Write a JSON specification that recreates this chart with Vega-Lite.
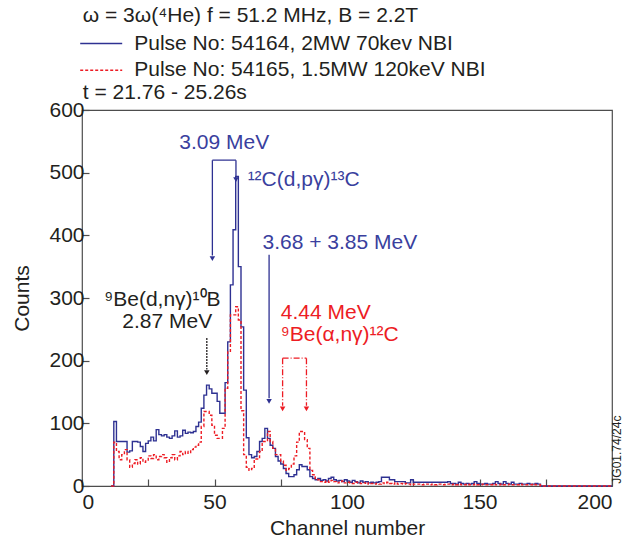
{
  "$schema": "https://vega.github.io/schema/vega-lite/v6.json",
  "autosize": {"type": "none"},
  "width": 530,
  "height": 376,
  "padding": {"left": 82, "top": 110, "right": 28, "bottom": 54},
  "config": {
    "font": "Liberation Sans",
    "view": {"stroke": "#4d4d4d", "strokeWidth": 1.2},
    "axis": {"labelFont": "Liberation Sans", "labelFontSize": 21, "labelColor": "#231f20", "titleFont": "Liberation Sans", "titleFontSize": 21, "titleFontWeight": "normal", "titleColor": "#231f20", "domain": false, "grid": false, "tickColor": "#4d4d4d", "tickSize": -7, "tickWidth": 1.2}
  },
  "datasets": {
    "spec": [
      {"ch": 11, "p54164": 0, "p54165": 0},
      {"ch": 12, "p54164": 103, "p54165": 70},
      {"ch": 13, "p54164": 71, "p54165": 55},
      {"ch": 14, "p54164": 71, "p54165": 42},
      {"ch": 15, "p54164": 71, "p54165": 50},
      {"ch": 16, "p54164": 71, "p54165": 58},
      {"ch": 17, "p54164": 54, "p54165": 42},
      {"ch": 18, "p54164": 56, "p54165": 30},
      {"ch": 19, "p54164": 71, "p54165": 36},
      {"ch": 20, "p54164": 71, "p54165": 42},
      {"ch": 21, "p54164": 70, "p54165": 35},
      {"ch": 22, "p54164": 63, "p54165": 45},
      {"ch": 23, "p54164": 55, "p54165": 38},
      {"ch": 24, "p54164": 68, "p54165": 40},
      {"ch": 25, "p54164": 72, "p54165": 48},
      {"ch": 26, "p54164": 78, "p54165": 44},
      {"ch": 27, "p54164": 72, "p54165": 50},
      {"ch": 28, "p54164": 90, "p54165": 42},
      {"ch": 29, "p54164": 82, "p54165": 47},
      {"ch": 30, "p54164": 80, "p54165": 50},
      {"ch": 31, "p54164": 82, "p54165": 45},
      {"ch": 32, "p54164": 78, "p54165": 38},
      {"ch": 33, "p54164": 76, "p54165": 45},
      {"ch": 34, "p54164": 80, "p54165": 50},
      {"ch": 35, "p54164": 88, "p54165": 42},
      {"ch": 36, "p54164": 78, "p54165": 48},
      {"ch": 37, "p54164": 80, "p54165": 55},
      {"ch": 38, "p54164": 89, "p54165": 50},
      {"ch": 39, "p54164": 84, "p54165": 55},
      {"ch": 40, "p54164": 86, "p54165": 52},
      {"ch": 41, "p54164": 85, "p54165": 58},
      {"ch": 42, "p54164": 87, "p54165": 62},
      {"ch": 43, "p54164": 95, "p54165": 65},
      {"ch": 44, "p54164": 102, "p54165": 70},
      {"ch": 45, "p54164": 124, "p54165": 95},
      {"ch": 46, "p54164": 145, "p54165": 119},
      {"ch": 47, "p54164": 161, "p54165": 119},
      {"ch": 48, "p54164": 155, "p54165": 113},
      {"ch": 49, "p54164": 148, "p54165": 97},
      {"ch": 50, "p54164": 148, "p54165": 81},
      {"ch": 51, "p54164": 135, "p54165": 76},
      {"ch": 52, "p54164": 116, "p54165": 76},
      {"ch": 53, "p54164": 116, "p54165": 92},
      {"ch": 54, "p54164": 165, "p54165": 156},
      {"ch": 55, "p54164": 230, "p54165": 215},
      {"ch": 56, "p54164": 321, "p54165": 273},
      {"ch": 57, "p54164": 409, "p54165": 273},
      {"ch": 58, "p54164": 494, "p54165": 286},
      {"ch": 59, "p54164": 350, "p54165": 265},
      {"ch": 60, "p54164": 254, "p54165": 120},
      {"ch": 61, "p54164": 153, "p54165": 50},
      {"ch": 62, "p54164": 77, "p54165": 30},
      {"ch": 63, "p54164": 50, "p54165": 25},
      {"ch": 64, "p54164": 45, "p54165": 28},
      {"ch": 65, "p54164": 47, "p54165": 43},
      {"ch": 66, "p54164": 55, "p54165": 43},
      {"ch": 67, "p54164": 71, "p54165": 55},
      {"ch": 68, "p54164": 76, "p54165": 71},
      {"ch": 69, "p54164": 92, "p54165": 71},
      {"ch": 70, "p54164": 76, "p54165": 87},
      {"ch": 71, "p54164": 65, "p54165": 71},
      {"ch": 72, "p54164": 60, "p54165": 60},
      {"ch": 73, "p54164": 47, "p54165": 50},
      {"ch": 74, "p54164": 40, "p54165": 50},
      {"ch": 75, "p54164": 35, "p54165": 40},
      {"ch": 76, "p54164": 28, "p54165": 33},
      {"ch": 77, "p54164": 20, "p54165": 25},
      {"ch": 78, "p54164": 15, "p54165": 28},
      {"ch": 79, "p54164": 15, "p54165": 35},
      {"ch": 80, "p54164": 18, "p54165": 48},
      {"ch": 81, "p54164": 26, "p54165": 70},
      {"ch": 82, "p54164": 34, "p54165": 87},
      {"ch": 83, "p54164": 31, "p54165": 87},
      {"ch": 84, "p54164": 31, "p54165": 74},
      {"ch": 85, "p54164": 26, "p54165": 60},
      {"ch": 86, "p54164": 15, "p54165": 25},
      {"ch": 87, "p54164": 12, "p54165": 18},
      {"ch": 88, "p54164": 10, "p54165": 12},
      {"ch": 89, "p54164": 12, "p54165": 10},
      {"ch": 90, "p54164": 9, "p54165": 7},
      {"ch": 91, "p54164": 10, "p54165": 6},
      {"ch": 92, "p54164": 8, "p54165": 8},
      {"ch": 93, "p54164": 12, "p54165": 6},
      {"ch": 94, "p54164": 14, "p54165": 9},
      {"ch": 95, "p54164": 10, "p54165": 7},
      {"ch": 96, "p54164": 8, "p54165": 5},
      {"ch": 97, "p54164": 9, "p54165": 6},
      {"ch": 98, "p54164": 7, "p54165": 8},
      {"ch": 99, "p54164": 10, "p54165": 5},
      {"ch": 100, "p54164": 8, "p54165": 6},
      {"ch": 101, "p54164": 6, "p54165": 5},
      {"ch": 102, "p54164": 9, "p54165": 4},
      {"ch": 103, "p54164": 7, "p54165": 6},
      {"ch": 104, "p54164": 5, "p54165": 5},
      {"ch": 105, "p54164": 8, "p54165": 4},
      {"ch": 106, "p54164": 6, "p54165": 5},
      {"ch": 107, "p54164": 7, "p54165": 3},
      {"ch": 108, "p54164": 5, "p54165": 5},
      {"ch": 109, "p54164": 6, "p54165": 4},
      {"ch": 110, "p54164": 5, "p54165": 3},
      {"ch": 111, "p54164": 6, "p54165": 4},
      {"ch": 112, "p54164": 7, "p54165": 3},
      {"ch": 113, "p54164": 14, "p54165": 5},
      {"ch": 114, "p54164": 14, "p54165": 4},
      {"ch": 115, "p54164": 14, "p54165": 6},
      {"ch": 116, "p54164": 10, "p54165": 4},
      {"ch": 117, "p54164": 10, "p54165": 3},
      {"ch": 118, "p54164": 7, "p54165": 5},
      {"ch": 119, "p54164": 7, "p54165": 3},
      {"ch": 120, "p54164": 7, "p54165": 4},
      {"ch": 121, "p54164": 7, "p54165": 3},
      {"ch": 122, "p54164": 5, "p54165": 4},
      {"ch": 123, "p54164": 5, "p54165": 3},
      {"ch": 124, "p54164": 10, "p54165": 2},
      {"ch": 125, "p54164": 6, "p54165": 3},
      {"ch": 126, "p54164": 6, "p54165": 3},
      {"ch": 127, "p54164": 6, "p54165": 3},
      {"ch": 128, "p54164": 6, "p54165": 2},
      {"ch": 129, "p54164": 6, "p54165": 3},
      {"ch": 130, "p54164": 6, "p54165": 3},
      {"ch": 131, "p54164": 6, "p54165": 2},
      {"ch": 132, "p54164": 6, "p54165": 3},
      {"ch": 133, "p54164": 6, "p54165": 2},
      {"ch": 134, "p54164": 6, "p54165": 3},
      {"ch": 135, "p54164": 6, "p54165": 3},
      {"ch": 136, "p54164": 6, "p54165": 2},
      {"ch": 137, "p54164": 6, "p54165": 3},
      {"ch": 138, "p54164": 7, "p54165": 3},
      {"ch": 139, "p54164": 4, "p54165": 2},
      {"ch": 140, "p54164": 4, "p54165": 3},
      {"ch": 141, "p54164": 3, "p54165": 2},
      {"ch": 142, "p54164": 6, "p54165": 3},
      {"ch": 143, "p54164": 4, "p54165": 2},
      {"ch": 144, "p54164": 3, "p54165": 2},
      {"ch": 145, "p54164": 4, "p54165": 3},
      {"ch": 146, "p54164": 3, "p54165": 2},
      {"ch": 147, "p54164": 4, "p54165": 2},
      {"ch": 148, "p54164": 7, "p54165": 3},
      {"ch": 149, "p54164": 4, "p54165": 2},
      {"ch": 150, "p54164": 3, "p54165": 2},
      {"ch": 151, "p54164": 3, "p54165": 3},
      {"ch": 152, "p54164": 4, "p54165": 2},
      {"ch": 153, "p54164": 3, "p54165": 2},
      {"ch": 154, "p54164": 3, "p54165": 2},
      {"ch": 155, "p54164": 4, "p54165": 3},
      {"ch": 156, "p54164": 7, "p54165": 2},
      {"ch": 157, "p54164": 4, "p54165": 2},
      {"ch": 158, "p54164": 3, "p54165": 3},
      {"ch": 159, "p54164": 7, "p54165": 2},
      {"ch": 160, "p54164": 4, "p54165": 2},
      {"ch": 161, "p54164": 3, "p54165": 3},
      {"ch": 162, "p54164": 6, "p54165": 2},
      {"ch": 163, "p54164": 3, "p54165": 2},
      {"ch": 164, "p54164": 3, "p54165": 2},
      {"ch": 165, "p54164": 4, "p54165": 3},
      {"ch": 166, "p54164": 3, "p54165": 2},
      {"ch": 167, "p54164": 3, "p54165": 2},
      {"ch": 168, "p54164": 4, "p54165": 2},
      {"ch": 169, "p54164": 3, "p54165": 2},
      {"ch": 170, "p54164": 3, "p54165": 3},
      {"ch": 171, "p54164": 4, "p54165": 2},
      {"ch": 172, "p54164": 3, "p54165": 2},
      {"ch": 173, "p54164": 0, "p54165": 0},
      {"ch": 200, "p54164": 0, "p54165": 0}
    ],
    "segs": [
      {"g": "blue", "ch": 49.2, "ch2": 58.1, "count": 520, "count2": 520},
      {"g": "blue", "ch": 49.2, "ch2": 49.2, "count": 520, "count2": 368},
      {"g": "blue", "ch": 58.1, "ch2": 58.1, "count": 520, "count2": 494},
      {"g": "blue", "ch": 70.6, "ch2": 70.6, "count": 369, "count2": 140},
      {"g": "black", "ch": 47.1, "ch2": 47.1, "count": 236, "count2": 186},
      {"g": "red", "ch": 75.7, "ch2": 84.7, "count": 204, "count2": 204},
      {"g": "red", "ch": 75.7, "ch2": 75.7, "count": 204, "count2": 128},
      {"g": "red", "ch": 84.7, "ch2": 84.7, "count": 204, "count2": 128}
    ],
    "heads": [
      {"g": "blue", "ch": 49.2, "count": 363},
      {"g": "blue", "ch": 58.1, "count": 489},
      {"g": "blue", "ch": 70.6, "count": 135},
      {"g": "black", "ch": 47.1, "count": 181},
      {"g": "red", "ch": 75.7, "count": 123},
      {"g": "red", "ch": 84.7, "count": 123}
    ],
    "notes": [
      {"g": "blue", "t": "3.09 MeV", "ch": 36.7, "count": 548},
      {"g": "blue", "t": "¹²C(d,pγ)¹³C", "ch": 62.5, "count": 489},
      {"g": "blue", "t": "3.68 + 3.85 MeV", "ch": 68.1, "count": 388},
      {"g": "black", "t": "⁹Be(d,nγ)¹⁰B", "ch": 8.4, "count": 297},
      {"g": "black", "t": "2.87 MeV", "ch": 15.2, "count": 262},
      {"g": "red", "t": "4.44 MeV", "ch": 75.0, "count": 276},
      {"g": "red", "t": "⁹Be(α,nγ)¹²C", "ch": 75.0, "count": 241}
    ],
    "header": [
      {"t": "ω = 3ω(⁴He) f = 51.2 MHz, B = 2.2T", "ch": 0.3, "count": 750},
      {"t": "t = 21.76 - 25.26s", "ch": 0.3, "count": 627}
    ],
    "stamp": [
      {"t": "JG01.74/24c", "ch": 202, "count": 58}
    ]
  },
  "layer": [
    {
      "data": {"name": "spec"},
      "transform": [{"fold": ["p54164", "p54165"], "as": ["series", "count"]}],
      "mark": {"type": "line", "interpolate": "step-after", "strokeWidth": 1.4},
      "encoding": {
        "x": {"field": "ch", "type": "quantitative", "scale": {"domain": [0, 200]},
          "axis": {"title": "Channel number", "values": [0, 25, 50, 75, 100, 125, 150, 175, 200], "labelExpr": "datum.value % 50 === 0 ? datum.label : ''", "labelPadding": 12, "titlePadding": 5}},
        "y": {"field": "count", "type": "quantitative", "scale": {"domain": [0, 600]},
          "axis": {"title": "Counts", "values": [0, 50, 100, 150, 200, 250, 300, 350, 400, 450, 500, 550, 600], "labelExpr": "datum.value % 100 === 0 ? datum.label : ''", "labelPadding": 5, "titlePadding": 16}},
        "color": {"field": "series", "type": "nominal", "scale": {"domain": ["p54164", "p54165"], "range": ["#2E3192", "#ED1C24"]},
          "legend": {"orient": "none", "legendX": 7.7, "legendY": -78, "padding": 0, "title": null, "symbolType": "M-2,0H2", "symbolSize": 441, "symbolStrokeWidth": 1.5, "symbolFillColor": "transparent", "labelFontSize": 21, "labelFont": "Liberation Sans", "labelColor": "#231f20", "labelOffset": 21.5, "labelLimit": 0, "rowPadding": 4.7,
            "labelExpr": "datum.label == 'p54164' ? 'Pulse No: 54164, 2MW 70kev NBI' : 'Pulse No: 54165, 1.5MW 120keV NBI'"}},
        "strokeDash": {"field": "series", "type": "nominal", "scale": {"domain": ["p54164", "p54165"], "range": [[1, 0], [3, 2]]}, "legend": null}
      }
    },
    {
      "data": {"name": "segs"},
      "mark": {"type": "rule", "strokeWidth": 1.3},
      "encoding": {
        "x": {"field": "ch", "type": "quantitative"},
        "x2": {"field": "ch2"},
        "y": {"field": "count", "type": "quantitative"},
        "y2": {"field": "count2"},
        "color": {"field": "g", "type": "nominal", "scale": {"domain": ["blue", "black", "red"], "range": ["#2E3192", "#231f20", "#ED1C24"]}, "legend": null},
        "strokeDash": {"field": "g", "type": "nominal", "scale": {"domain": ["blue", "black", "red"], "range": [[1, 0], [2, 1], [6, 2, 1, 2]]}, "legend": null}
      }
    },
    {
      "data": {"name": "heads"},
      "mark": {"type": "point", "shape": "triangle-down", "filled": true, "size": 30, "opacity": 1},
      "encoding": {
        "x": {"field": "ch", "type": "quantitative"},
        "y": {"field": "count", "type": "quantitative"},
        "color": {"field": "g", "type": "nominal", "scale": {"domain": ["blue", "black", "red"], "range": ["#2E3192", "#231f20", "#ED1C24"]}, "legend": null}
      }
    },
    {
      "data": {"name": "notes"},
      "mark": {"type": "text", "align": "left", "baseline": "middle", "fontSize": 21, "font": "Liberation Sans"},
      "encoding": {
        "x": {"field": "ch", "type": "quantitative"},
        "y": {"field": "count", "type": "quantitative"},
        "text": {"field": "t"},
        "color": {"field": "g", "type": "nominal", "scale": {"domain": ["blue", "black", "red"], "range": ["#3A3F9E", "#231f20", "#ED1C24"]}, "legend": null}
      }
    },
    {
      "data": {"name": "header"},
      "mark": {"type": "text", "align": "left", "baseline": "middle", "fontSize": 21, "font": "Liberation Sans", "color": "#231f20"},
      "encoding": {
        "x": {"field": "ch", "type": "quantitative"},
        "y": {"field": "count", "type": "quantitative"},
        "text": {"field": "t"}
      }
    },
    {
      "data": {"name": "stamp"},
      "mark": {"type": "text", "align": "center", "baseline": "middle", "angle": 270, "fontSize": 12, "font": "Liberation Sans", "color": "#231f20"},
      "encoding": {
        "x": {"field": "ch", "type": "quantitative"},
        "y": {"field": "count", "type": "quantitative"},
        "text": {"field": "t"}
      }
    }
  ],
  "resolve": {"scale": {"color": "independent", "strokeDash": "independent"}, "legend": {"color": "independent", "strokeDash": "independent"}}
}
